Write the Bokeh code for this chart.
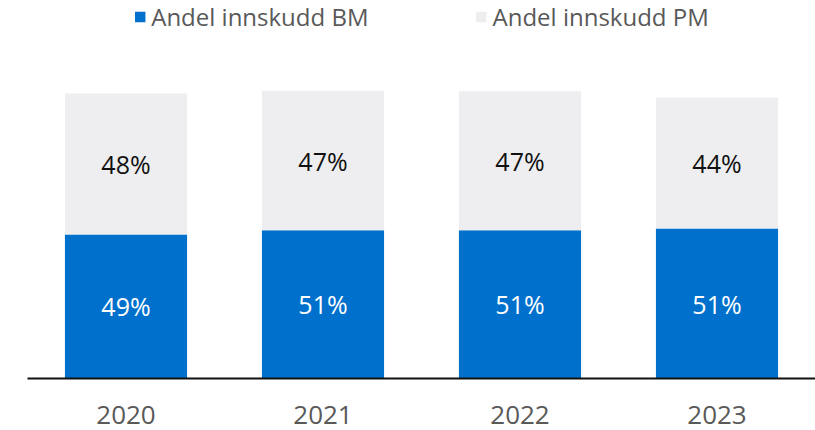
from bokeh.plotting import figure
from bokeh.models import ColumnDataSource, Range1d, FactorRange, Legend, LegendItem
from bokeh.core.properties import value
from bokeh.embed import file_html
from bokeh.resources import INLINE

years = ["2020", "2021", "2022", "2023"]
bm = [49.0, 50.4, 50.4, 51.0]
pm = [48.0, 47.5, 47.3, 44.6]
bm_labels = ["49%", "51%", "51%", "51%"]
pm_labels = ["48%", "47%", "47%", "44%"]

BLUE = "#0070CD"
GRAY = "#EEEEF0"
FONT = "Open Sans"

bm_mid = [b / 2 for b in bm]
pm_mid = [b + p / 2 for b, p in zip(bm, pm)]
src = ColumnDataSource(dict(years=years, bm=bm, pm=pm, bm_mid=bm_mid, pm_mid=pm_mid,
                            bm_labels=bm_labels, pm_labels=pm_labels))

p = figure(x_range=FactorRange(*years, range_padding=0), y_range=Range1d(0, 128.6),
           width=815, height=430, output_backend="svg", toolbar_location=None,
           min_border_left=27, min_border_right=0, min_border_top=0, min_border_bottom=52)

r = p.vbar_stack(["bm", "pm"], x="years", width=0.62, source=src, color=[BLUE, GRAY],
                 line_color=None)

p.text(x="years", y="bm_mid", text="bm_labels", source=src, text_align="center",
       text_baseline="middle", text_color="white", text_font=value(FONT), text_font_size="25px")
p.text(x="years", y="pm_mid", text="pm_labels", source=src, text_align="center",
       text_baseline="middle", text_color="#111111", text_font=value(FONT), text_font_size="25px")

legend = Legend(items=[LegendItem(label="Andel innskudd BM", renderers=[r[0]]),
                       LegendItem(label="Andel innskudd PM", renderers=[r[1]])],
                location="top_center", orientation="horizontal")
legend.margin = 0
legend.padding = 0
legend.spacing = 106
legend.glyph_width = 13
legend.glyph_height = 13
legend.label_standoff = 5
legend.label_text_font = FONT
legend.label_text_font_size = "24px"
legend.label_text_color = "#595959"
legend.border_line_color = None
legend.background_fill_alpha = 0
p.add_layout(legend, "center")

p.yaxis.visible = False
p.xgrid.grid_line_color = None
p.ygrid.grid_line_color = None
p.outline_line_color = None
p.xaxis.axis_line_color = "#111111"
p.xaxis.axis_line_width = 2
p.xaxis.major_tick_line_color = None
p.xaxis.minor_tick_line_color = None
p.xaxis.major_tick_out = 0
p.xaxis.major_label_standoff = 27
p.xaxis.major_label_text_font = FONT
p.xaxis.major_label_text_font_size = "26px"
p.xaxis.major_label_text_color = "#595959"

open("out.html", "w").write(file_html(p, INLINE))
